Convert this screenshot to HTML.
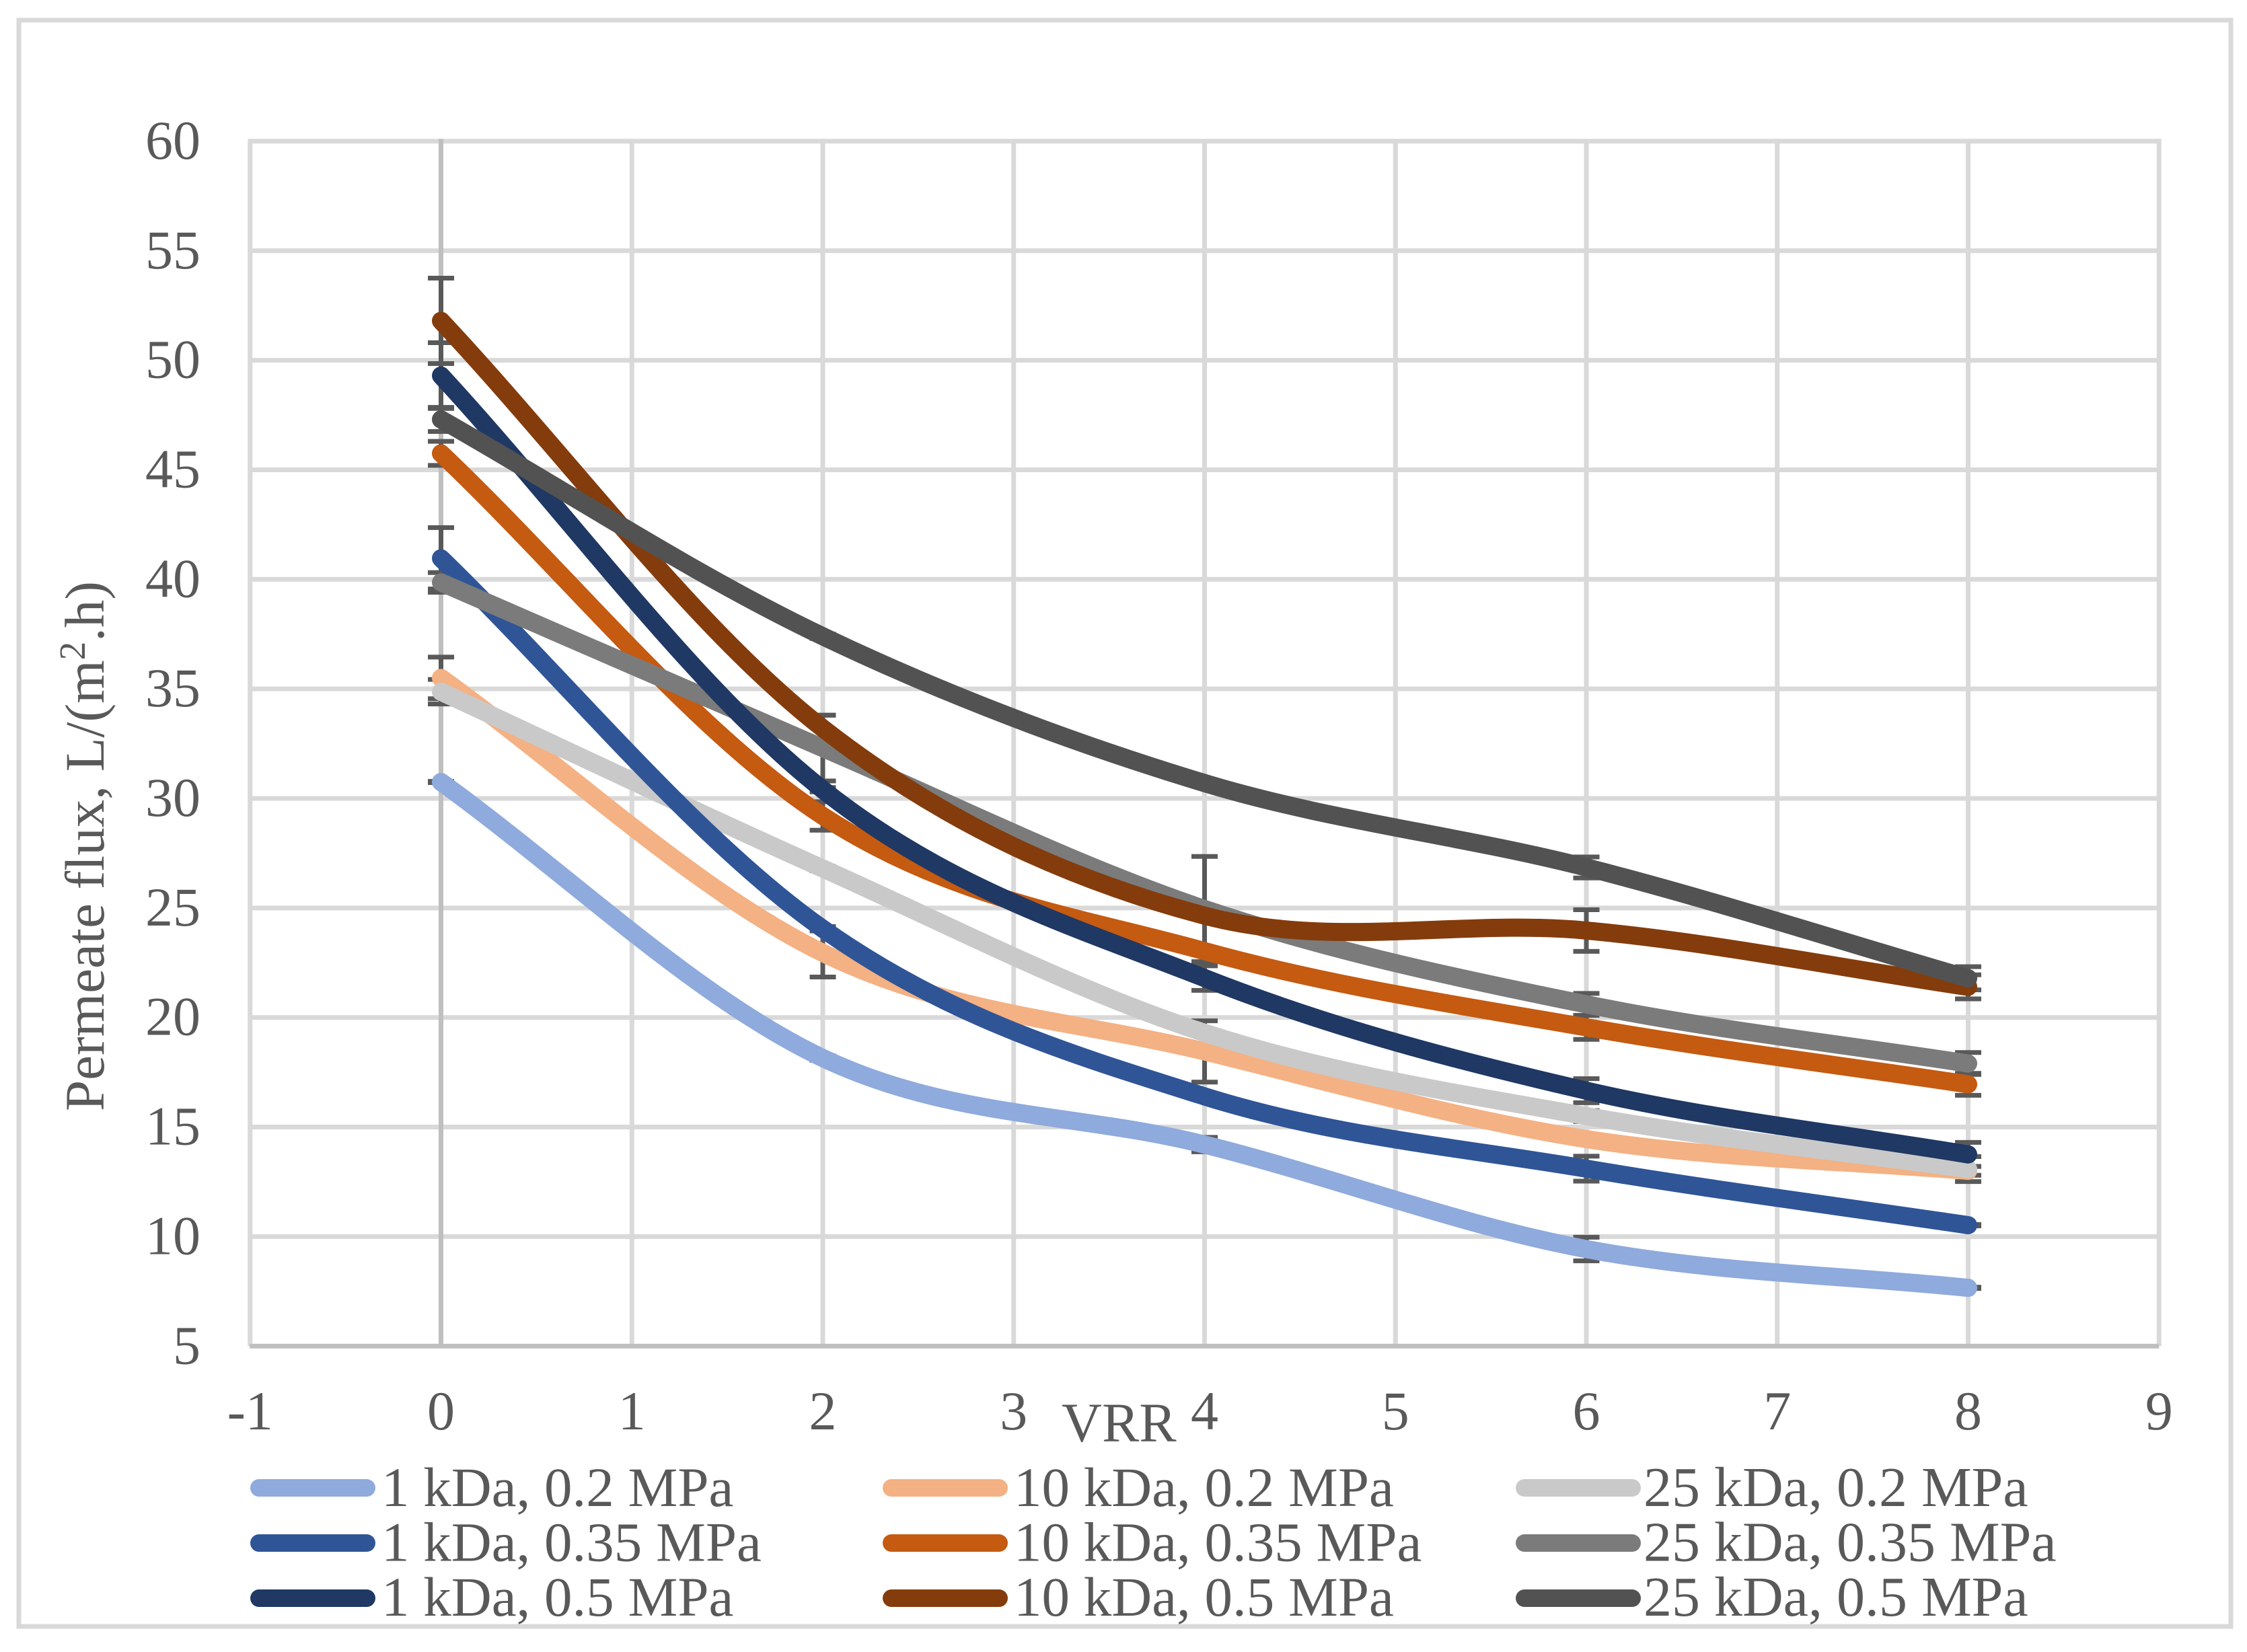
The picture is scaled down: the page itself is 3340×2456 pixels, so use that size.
<!DOCTYPE html>
<html lang="en">
<head>
<meta charset="utf-8">
<title>Permeate flux vs VRR</title>
<style>
html,body{margin:0;padding:0;background:#fff;}
svg{display:block;}
text{font-family:"Liberation Serif","Times New Roman",serif;fill:#595959;}
</style>
</head>
<body>
<svg id="chart" xmlns="http://www.w3.org/2000/svg" width="3340" height="2456" viewBox="0 0 3340 2456">
  <rect x="0" y="0" width="3340" height="2456" fill="#ffffff"/>
  <rect x="28" y="30" width="3288" height="2388" fill="#ffffff" stroke="#d9d9d9" stroke-width="7"/>
  <g id="grid"></g>
  <g id="errors"></g>
  <g id="lines"></g>
  <g id="xticks" font-size="82" text-anchor="middle"></g>
  <g id="yticks" font-size="82" text-anchor="end"></g>
  <text x="1578" y="2143" font-size="83">VRR</text>
  <text transform="translate(154 1652) rotate(-90)" font-size="83">Permeate flux, L/(m<tspan dy="-28" font-size="55">2</tspan><tspan dy="28">.h)</tspan></text>
  <g id="legend"></g>
</svg>
<script>
// ---- chart data ----
const xValues = [0, 2, 4, 6, 8];
const xTickLabels = [-1, 0, 1, 2, 3, 4, 5, 6, 7, 8, 9];
const yTickLabels = [60, 55, 50, 45, 40, 35, 30, 25, 20, 15, 10, 5];

const seriesNames = [
  '1 kDa, 0.2 MPa', '10 kDa, 0.2 MPa', '25 kDa, 0.2 MPa',
  '1 kDa, 0.35 MPa', '10 kDa, 0.35 MPa', '25 kDa, 0.35 MPa',
  '1 kDa, 0.5 MPa', '10 kDa, 0.5 MPa', '25 kDa, 0.5 MPa'
];
const flux1kDa02   = [30.75, 18.15, 14.2, 9.43, 7.66];
const flux10kDa02  = [35.5, 22.95, 18.45, 14.45, 13.0];
const flux25kDa02  = [34.87, 26.8, 19.3, 15.5, 13.08];
const flux1kDa035  = [40.96, 24.05, 16.4, 13.1, 10.52];
const flux10kDa035 = [45.75, 29.2, 23.03, 19.55, 16.95];
const flux25kDa035 = [39.86, 32.3, 24.95, 20.6, 17.9];
const flux1kDa05   = [49.3, 30.4, 21.8, 16.66, 13.75];
const flux10kDa05  = [51.8, 33.2, 24.65, 23.97, 21.4];
const flux25kDa05  = [47.3, 37.4, 30.7, 26.85, 21.79];

const err1kDa02   = [0.03, 0.1, 0.33, 0.54, 0.03];
const err10kDa02  = [0.95, 1.1, 1.4, 0.15, 0.2];
const err25kDa02  = [0.56, 0.1, 0.1, 0.25, 0.57];
const err1kDa035  = [1.4, 0.1, 0.1, 0.57, 0.03];
const err10kDa035 = [0.55, 0.65, 0.1, 0.55, 0.5];
const err25kDa035 = [0.45, 1.5, 2.4, 0.5, 0.5];
const err1kDa05   = [1.5, 0.1, 0.56, 0.55, 0.55];
const err10kDa05  = [1.95, 0.6, 0.1, 0.95, 0.55];
const err25kDa05  = [0.55, 0.1, 0.1, 0.48, 0.53];

const fluxSeries = [flux1kDa02, flux10kDa02, flux25kDa02, flux1kDa035, flux10kDa035, flux25kDa035, flux1kDa05, flux10kDa05, flux25kDa05];
const errSeries = [err1kDa02, err10kDa02, err25kDa02, err1kDa035, err10kDa035, err25kDa035, err1kDa05, err10kDa05, err25kDa05];
const seriesColors = ['#8faadc', '#f4b183', '#c9c9c9', '#2f5597', '#c55a11', '#7b7b7b', '#1f3864', '#843c0c', '#525252'];

// ---- axis functions ----
const NS = 'http://www.w3.org/2000/svg';
function xScale(v) { return 655.5 + v * 283.75; }
function yScale(v) { return 209.9 + (60 - v) * 32.57; }

function make(tag, attrs, parent) {
  const el = document.createElementNS(NS, tag);
  for (const k in attrs) el.setAttribute(k, attrs[k]);
  parent.appendChild(el);
  return el;
}
function slug(name) {
  return name.toLowerCase().replace(/[^a-z0-9]+/g, '-').replace(/-$/, '');
}

// smooth path through the points (same tangent rule as a spreadsheet smoothed line)
function smoothPath(xs, ys) {
  const n = xs.length;
  const tangent = function (i) {
    if (i === 0) return (ys[1] - ys[0]) / (xs[1] - xs[0]);
    if (i === n - 1) return (ys[n - 1] - ys[n - 2]) / (xs[n - 1] - xs[n - 2]);
    return (ys[i + 1] - ys[i - 1]) / (xs[i + 1] - xs[i - 1]);
  };
  let d = 'M' + xScale(xs[0]).toFixed(2) + ' ' + yScale(ys[0]).toFixed(2);
  for (let i = 0; i < n - 1; i++) {
    const h = (xs[i + 1] - xs[i]) / 3;
    const c1x = xs[i] + h, c1y = ys[i] + tangent(i) * h;
    const c2x = xs[i + 1] - h, c2y = ys[i + 1] - tangent(i + 1) * h;
    d += ' C' + xScale(c1x).toFixed(2) + ' ' + yScale(c1y).toFixed(2) + ' ' +
         xScale(c2x).toFixed(2) + ' ' + yScale(c2y).toFixed(2) + ' ' +
         xScale(xs[i + 1]).toFixed(2) + ' ' + yScale(ys[i + 1]).toFixed(2);
  }
  return d;
}

const gridG = document.getElementById('grid');
const errG = document.getElementById('errors');
const linesG = document.getElementById('lines');
const xtG = document.getElementById('xticks');
const ytG = document.getElementById('yticks');
const legG = document.getElementById('legend');

// ---- gridlines ----
yTickLabels.forEach(function (v) {
  if (v === 5) return;
  const el = make('line', { x1: xScale(-1), x2: xScale(9), y1: yScale(v), y2: yScale(v), stroke: '#d9d9d9', 'stroke-width': 7 }, gridG);
  
  
});
xTickLabels.forEach(function (v) {
  const el = make('line', { x1: xScale(v), x2: xScale(v), y1: yScale(60) - 3.5, y2: yScale(5), stroke: v === 0 ? '#bfbfbf' : '#d9d9d9', 'stroke-width': 7 }, gridG);
  
  
});
const xAxisLine = make('line', { x1: xScale(-1) - 0.7, x2: xScale(9), y1: yScale(5), y2: yScale(5), stroke: '#bfbfbf', 'stroke-width': 7 }, gridG);



// ---- tick labels ----
xTickLabels.forEach(function (v) {
  const el = make('text', { x: xScale(v), y: 2125 }, xtG);
  el.textContent = String(v);
  
  
});
yTickLabels.forEach(function (v) {
  const el = make('text', { x: 298, y: yScale(v) + 26 }, ytG);
  el.textContent = String(v);
  
  
});

// ---- error bars ----
fluxSeries.forEach(function (vals, s) {
  vals.forEach(function (v, i) {
    const px = xScale(xValues[i]);
    const top = yScale(v + errSeries[s][i]);
    const bot = yScale(v - errSeries[s][i]);
    const g = make('g', { stroke: '#595959', 'stroke-width': 7, fill: 'none' }, errG);
    
    
    make('line', { x1: px, x2: px, y1: top, y2: bot }, g);
    make('line', { x1: px - 19.5, x2: px + 19.5, y1: top, y2: top }, g);
    make('line', { x1: px - 19.5, x2: px + 19.5, y1: bot, y2: bot }, g);
  });
});

// ---- series lines ----
fluxSeries.forEach(function (vals, s) {
  const el = make('path', {
    d: smoothPath(xValues, vals),
    fill: 'none',
    stroke: seriesColors[s],
    'stroke-width': 27,
    'stroke-linecap': 'round',
    'stroke-linejoin': 'round'
  }, linesG);
  
  
});

// ---- legend ----
const legendColumnSwatch = [385, 1325, 2266];
const legendColumnText = [567, 1507, 2443];
const legendColumnFont = [83, 83, 84];
const legendRowCenter = [2212, 2294, 2376];
const legendRowBaseline = [2239, 2320.6, 2402];
seriesNames.forEach(function (name, s) {
  const col = s % 3;
  const row = Math.floor(s / 3);
  const g = make('g', {}, legG);
  
  
  const sw = make('line', {
    x1: legendColumnSwatch[col], x2: legendColumnSwatch[col] + 160,
    y1: legendRowCenter[row], y2: legendRowCenter[row],
    stroke: seriesColors[s], 'stroke-width': 26, 'stroke-linecap': 'round'
  }, g);
  
  
  const t = make('text', { x: legendColumnText[col], y: legendRowBaseline[row], 'font-size': legendColumnFont[col] }, g);
  t.textContent = name;
  
  
});
</script>
</body>
</html>
